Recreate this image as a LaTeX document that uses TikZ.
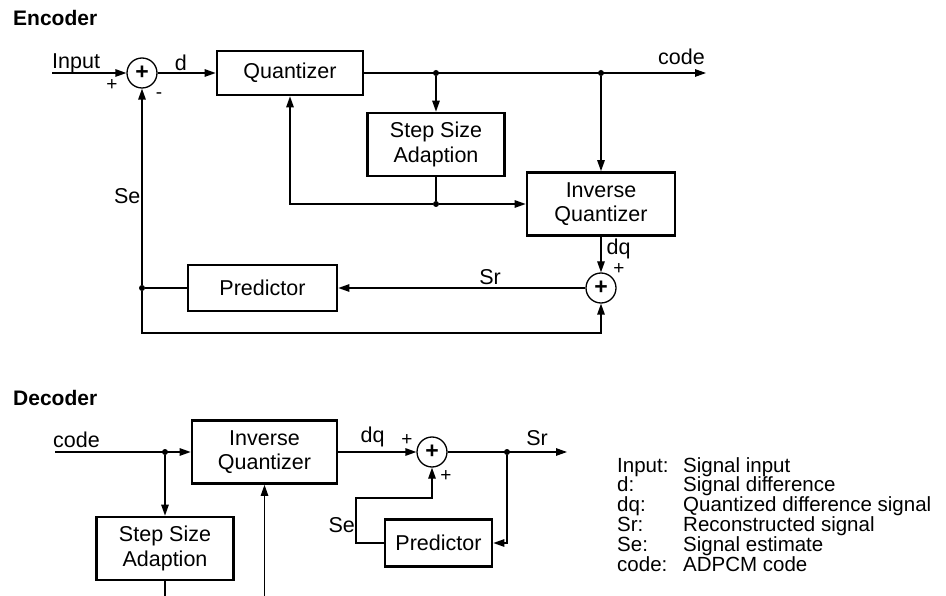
\documentclass[tikz,border=0pt]{standalone}
\usepackage{fontspec}
\setmainfont{Liberation Sans}
\usetikzlibrary{arrows.meta, positioning, calc}
\tikzset{
	blk/.style ={rectangle, draw=black, line width=2.7pt, align=center, inner sep=2pt, font=\fontsize{21.5}{24.5}\selectfont},
	sumj/.style={circle, draw=black, line width=1.3pt, minimum size=30pt, inner sep=0pt, font=\fontsize{23}{23}\selectfont\bfseries},
	sig/.style ={-{Triangle[length=11pt, width=7.5pt]}, line width=1.3pt},
	wire/.style={line width=1.3pt},
	lbl/.style ={inner sep=0pt, font=\fontsize{21.5}{24}\selectfont},
	pm/.style  ={inner sep=0pt, font=\fontsize{19}{19}\selectfont},
	ttl/.style ={inner sep=0pt, font=\fontsize{21}{24}\selectfont\bfseries},
	lgd/.style ={inner sep=0pt, font=\fontsize{20.5}{24}\selectfont},
	jdot/.style={circle, fill=black, inner sep=0pt, minimum size=6pt},
}
\begin{document}
\begin{tikzpicture}[x=1pt, y=-1pt]
	\useasboundingbox (0,0) rectangle (946,596);
	% encoder
	\node[ttl, anchor=base west] (enc) at (13,26) {Encoder};
	\node[sumj] (es) at (142,73) {+};
	\node[blk, minimum width=146pt, minimum height=44pt] (eq) at (290,73) {Quantizer};
	\node[blk, minimum width=137pt, minimum height=63pt] (essa) at (436,144.5) {Step Size\\Adaption};
	\node[blk, minimum width=148pt, minimum height=63pt] (eiq) at (601,204) {Inverse\\Quantizer};
	\node[sumj] (er) at (601,288) {+};
	\node[blk, minimum width=149pt, minimum height=46pt] (ep) at (262.5,288) {Predictor};
	\coordinate (ein) at (52,73);
	\coordinate (eout) at (706,73);
	\coordinate (eb) at (142,333);
	\node[jdot] (ej1) at (436,73) {};
	\node[jdot] (ej2) at (601,73) {};
	\node[jdot] (ej3) at (436,204) {};
	\node[jdot] (ej4) at (142,288) {};
	\node[lbl, anchor=base west] (lin) at (52,69) {Input};
	\node[pm] (lp1) at (112,85) {+};
	\node[pm] (lm1) at (159,96) {-};
	\draw[sig] (ein) -- (es);
	\draw[sig] (es) -- node[lbl, above=2pt, pos=0.4] (ld) {d} (eq);
	\draw[sig] (eq) -- (eout);
	\node[lbl, anchor=base east] (lcode) at (705,65) {code};
	\draw[sig] (ej1) -- (essa);
	\draw[sig] (ej2) -- (eiq);
	\draw[wire] (essa) -- (ej3);
	\draw[sig] (ej3) -- (eiq);
	\draw[sig] (ej3) -| (eq);
	\draw[sig] (eiq) -- node[lbl, right=5pt, pos=0.35] (ldq) {dq} (er);
	\node[pm] (lp2) at (619,269) {+};
	\draw[sig] (er) -- node[lbl, above=3pt, pos=0.386] (lsr) {Sr} (ep);
	\draw[wire] (ep) -- (ej4);
	\draw[sig] (ej4) -- node[lbl, left=1pt, pos=0.45] (lse) {Se} (es);
	\draw[sig] (ej4) -- (eb) -| (er);
	% decoder
	\node[ttl, anchor=base west] (dec) at (13,405) {Decoder};
	\node[blk, minimum width=145pt, minimum height=63pt] (diq) at (264.5,452) {Inverse\\Quantizer};
	\node[blk, minimum width=137pt, minimum height=63pt] (dssa) at (165,548.5) {Step Size\\Adaption};
	\node[sumj] (ds) at (432,452) {+};
	\node[blk, minimum width=107pt, minimum height=47pt] (dp) at (438.5,543) {Predictor};
	\coordinate (din) at (55,452);
	\coordinate (dout) at (567,452);
	\coordinate (db1) at (165,596);
	\coordinate (db2) at (264.5,596);
	\coordinate (dk) at (356,498);
	\node[jdot] (dj1) at (165,452) {};
	\node[jdot] (dj2) at (507,452) {};
	\node[lbl, anchor=base west] (lcode2) at (53,447) {code};
	\draw[sig] (din) -- (diq);
	\draw[sig] (dj1) -- (dssa);
	\draw[wire] (dssa) -- (db1);
	\draw[sig] (db2) -- (diq);
	\draw[sig] (diq) -- node[lbl, above=4pt, pos=0.44] (ldq2) {dq} (ds);
	\node[pm] (lp3) at (407,440) {+};
	\draw[sig] (ds) -- (dout);
	\node[lbl, anchor=base] (lsr2) at (537,445) {Sr};
	\draw[sig] (dj2) |- (dp);
	\draw[sig] (dp) -| (dk) -| (ds);
	\node[lbl, anchor=east] (lse2) at (355,525) {Se};
	\node[pm] (lp4) at (446,476) {+};
	% legend
	\foreach \k/\v [count=\i] in {Input:/Signal input, d:/Signal difference, dq:/Quantized difference signal, Sr:/Reconstructed signal, Se:/Signal estimate, code:/ADPCM code}{
		\node[lgd, anchor=base west] (k\i) at (617,{472+19.8*(\i-1)}) {\k};
		\node[lgd, anchor=base west] (v\i) at (683,{472+19.8*(\i-1)}) {\v};
	}
\end{tikzpicture}
\end{document}
